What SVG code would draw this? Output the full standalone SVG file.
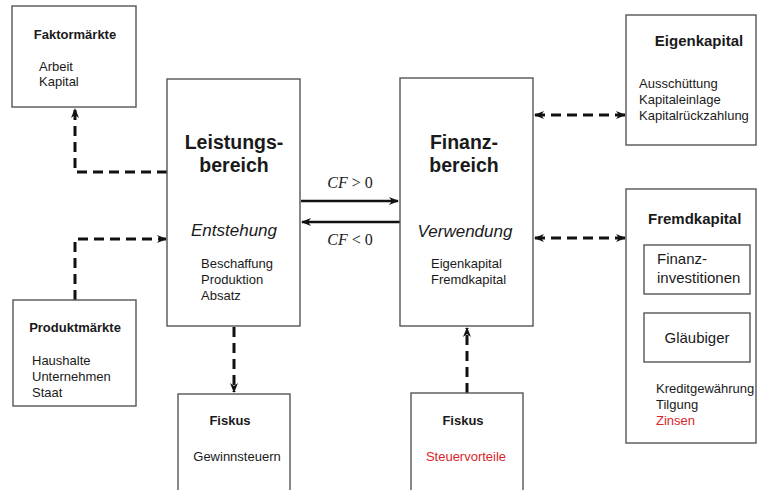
<svg xmlns="http://www.w3.org/2000/svg" width="757" height="490" viewBox="0 0 757 490">
<defs>
<style>
.box{fill:#fff;stroke:#555;stroke-width:1.4}
.t{font-family:"Liberation Sans",Arial,sans-serif;fill:#1a1a1a}
.b{font-weight:bold}
.s13{font-size:13px}
.s15{font-size:15px}
.big{font-size:19.5px;font-weight:bold}
.it{font-size:17px;font-style:italic}
.red{fill:#d9262b}
.m{font-family:"Liberation Serif","Times New Roman",serif;font-size:16px;fill:#1a1a1a}
.dash{fill:none;stroke:#111;stroke-width:3;stroke-dasharray:10 6}
.solid{fill:none;stroke:#111;stroke-width:2.6}
</style>
<marker id="ah" viewBox="0 0 10 10" refX="9" refY="5" markerWidth="10" markerHeight="10" markerUnits="userSpaceOnUse" orient="auto-start-reverse">
<path d="M0,1 L10,5 L0,9 L3,5 z" fill="#111"/>
</marker>
</defs>
<rect width="757" height="490" fill="#fff"/>
<g id="connectors">
<path class="dash" d="M167,172 H75 V109" marker-end="url(#ah)"/>
<path class="dash" d="M75,300 V239 H166" marker-end="url(#ah)"/>
<path class="dash" d="M234,327 V392" marker-end="url(#ah)"/>
<path class="dash" d="M467,393 V328" marker-end="url(#ah)"/>
<path class="dash" d="M535,115 H625" marker-start="url(#ah)" marker-end="url(#ah)"/>
<path class="dash" d="M535,238 H625" marker-start="url(#ah)" marker-end="url(#ah)"/>
<path class="solid" d="M301,201 H398" marker-end="url(#ah)"/>
<path class="solid" d="M400,222 H302" marker-end="url(#ah)"/>
<text class="m" x="350" y="188" text-anchor="middle"><tspan font-style="italic">CF</tspan> &gt; 0</text>
<text class="m" x="350" y="245" text-anchor="middle"><tspan font-style="italic">CF</tspan> &lt; 0</text>
</g>
<g id="faktormaerkte">
<rect class="box" x="12" y="6" width="124" height="101"/>
<text class="t b s13" x="75" y="39" text-anchor="middle">Faktormärkte</text>
<text class="t s13" x="39" y="71">Arbeit</text>
<text class="t s13" x="39" y="86">Kapital</text>
</g>
<g id="produktmaerkte">
<rect class="box" x="13" y="300" width="123" height="106"/>
<text class="t b s13" x="75" y="332" text-anchor="middle">Produktmärkte</text>
<text class="t s13" x="32" y="365">Haushalte</text>
<text class="t s13" x="32" y="381">Unternehmen</text>
<text class="t s13" x="32" y="397">Staat</text>
</g>
<g id="leistungsbereich">
<rect class="box" x="167" y="79" width="133" height="247"/>
<text class="t big" x="234" y="149" text-anchor="middle">Leistungs-</text>
<text class="t big" x="234" y="172" text-anchor="middle">bereich</text>
<text class="t it" x="234" y="236" text-anchor="middle">Entstehung</text>
<text class="t s13" x="201" y="268">Beschaffung</text>
<text class="t s13" x="201" y="284">Produktion</text>
<text class="t s13" x="201" y="300">Absatz</text>
</g>
<g id="finanzbereich">
<rect class="box" x="400" y="78" width="133" height="248"/>
<text class="t big" x="464" y="149" text-anchor="middle">Finanz-</text>
<text class="t big" x="464" y="172" text-anchor="middle">bereich</text>
<text class="t it" x="465" y="237" text-anchor="middle">Verwendung</text>
<text class="t s13" x="431" y="268">Eigenkapital</text>
<text class="t s13" x="431" y="284">Fremdkapital</text>
</g>
<g id="fiskus-links">
<rect class="box" x="178" y="394" width="112" height="100"/>
<text class="t b s13" x="230" y="425" text-anchor="middle">Fiskus</text>
<text class="t s13" x="237" y="461" text-anchor="middle">Gewinnsteuern</text>
</g>
<g id="fiskus-rechts">
<rect class="box" x="411" y="393" width="112" height="101"/>
<text class="t b s13" x="463" y="425" text-anchor="middle">Fiskus</text>
<text class="t s13 red" x="466" y="461" text-anchor="middle">Steuervorteile</text>
</g>
<g id="eigenkapital">
<rect class="box" x="626" y="15" width="130" height="130"/>
<text class="t b s15" x="699" y="46" text-anchor="middle">Eigenkapital</text>
<text class="t s13" x="639" y="88">Ausschüttung</text>
<text class="t s13" x="639" y="104">Kapitaleinlage</text>
<text class="t s13" x="639" y="120">Kapitalrückzahlung</text>
</g>
<g id="fremdkapital">
<rect class="box" x="626" y="189" width="130" height="254"/>
<text class="t b s15" x="648" y="224">Fremdkapital</text>
<g id="finanzinvestitionen">
<rect class="box" x="644" y="245" width="106" height="49"/>
<text class="t s15" x="657" y="264">Finanz-</text>
<text class="t s15" x="657" y="283">investitionen</text>
</g>
<g id="glaeubiger">
<rect class="box" x="644" y="313" width="106" height="49"/>
<text class="t s15" x="697" y="343" text-anchor="middle">Gläubiger</text>
</g>
<text class="t s13" x="656" y="393">Kreditgewährung</text>
<text class="t s13" x="656" y="409">Tilgung</text>
<text class="t s13 red" x="656" y="425">Zinsen</text>
</g>
</svg>
